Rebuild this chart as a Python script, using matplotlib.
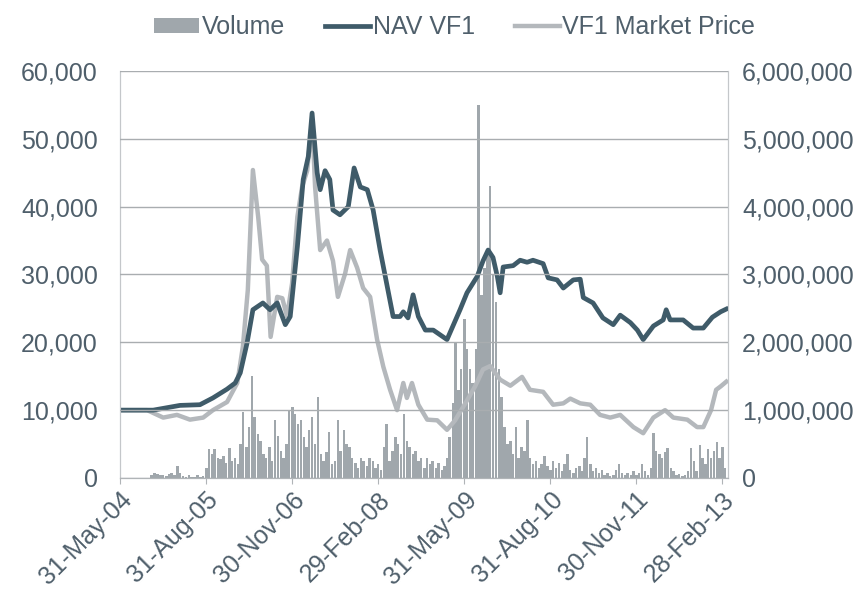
import matplotlib
matplotlib.use("Agg")
import matplotlib.pyplot as plt
import matplotlib.dates as mdates
from matplotlib.ticker import FuncFormatter, FixedLocator
from matplotlib.patches import Patch
from matplotlib.lines import Line2D
import pandas as pd
import numpy as np

plt.rcParams['font.family'] = ['Liberation Sans', 'DejaVu Sans']

# ---------------- data ----------------
nav_dates = ["2004-05-31", "2004-11-23", "2005-04-14", "2005-07-29", "2005-10-06", "2005-12-20",
             "2006-02-01", "2006-02-28", "2006-04-05", "2006-05-06", "2006-06-28", "2006-08-05",
             "2006-09-12", "2006-10-25", "2006-11-20", "2006-12-28", "2007-01-28", "2007-02-24",
             "2007-03-16", "2007-04-12", "2007-04-28", "2007-05-24", "2007-06-18", "2007-07-05",
             "2007-08-11", "2007-09-24", "2007-10-25", "2007-11-27", "2008-01-03", "2008-02-03",
             "2008-03-11", "2008-04-18", "2008-05-19", "2008-06-25", "2008-07-12", "2008-08-06",
             "2008-09-02", "2008-09-30", "2008-11-06", "2008-12-18", "2009-03-01", "2009-05-09",
             "2009-06-15", "2009-08-08", "2009-09-08", "2009-10-05", "2009-10-31", "2009-11-23",
             "2009-12-08", "2009-12-24", "2010-02-15", "2010-03-24", "2010-04-30", "2010-05-31",
             "2010-07-24", "2010-08-20", "2010-10-06", "2010-11-08", "2010-12-31", "2011-02-06",
             "2011-02-22", "2011-04-15", "2011-06-06", "2011-07-31", "2011-09-06", "2011-10-30",
             "2011-12-06", "2012-01-06", "2012-02-29", "2012-04-21", "2012-05-07", "2012-05-28",
             "2012-08-05", "2012-09-27", "2012-11-20", "2013-01-07", "2013-02-20", "2013-03-22"]
nav_values = [10000, 10000, 10700, 10800, 11800, 13100,
              14000, 15500, 19900, 24800, 25800, 24800,
              25800, 22600, 23800, 34100, 44000, 47400,
              53800, 45000, 42500, 45300, 44000, 39500,
              38800, 40000, 45700, 42900, 42500, 39500,
              33600, 28200, 23800, 23800, 24500, 23600,
              27000, 23800, 21800, 21800, 20400, 24800,
              27300, 29700, 32000, 33600, 32500, 29700,
              27300, 31100, 31300, 32100, 31800, 32100,
              31600, 29500, 29200, 28000, 29200, 29300,
              26600, 25800, 23600, 22600, 24000, 22900,
              21800, 20400, 22400, 23300, 24800, 23300,
              23300, 22100, 22100, 23700, 24500, 24900]

mkt_dates = ["2004-05-31", "2004-10-22", "2005-01-15", "2005-03-29", "2005-06-06", "2005-08-15",
             "2005-10-06", "2005-12-20", "2006-02-12", "2006-03-14", "2006-04-09", "2006-05-06",
             "2006-06-03", "2006-06-24", "2006-07-19", "2006-08-08", "2006-09-12", "2006-10-09",
             "2006-11-03", "2006-11-30", "2006-12-28", "2007-01-22", "2007-02-18", "2007-03-16",
             "2007-04-01", "2007-04-28", "2007-06-03", "2007-07-05", "2007-07-31", "2007-09-07",
             "2007-10-04", "2007-11-10", "2007-12-12", "2008-01-18", "2008-02-24", "2008-03-28",
             "2008-05-03", "2008-06-09", "2008-07-12", "2008-07-31", "2008-08-27", "2008-09-30",
             "2008-11-16", "2009-01-08", "2009-03-01", "2009-04-13", "2009-06-06", "2009-07-28",
             "2009-09-08", "2009-10-16", "2009-12-08", "2010-01-31", "2010-04-03", "2010-05-15",
             "2010-07-24", "2010-09-15", "2010-11-08", "2010-12-15", "2011-02-06", "2011-03-31",
             "2011-05-22", "2011-07-15", "2011-09-06", "2011-11-15", "2012-01-06", "2012-02-29",
             "2012-05-01", "2012-06-14", "2012-08-27", "2012-10-18", "2012-11-20", "2012-12-31",
             "2013-01-27", "2013-02-20", "2013-03-22"]
mkt_values = [10000, 10000, 8900, 9300, 8600, 8900,
              10000, 11200, 14000, 19400, 27700, 45400,
              38500, 32200, 31300, 20800, 26700, 26500,
              23800, 28700, 38500, 42900, 45300, 52800,
              42900, 33600, 35000, 32000, 26700, 30100,
              33600, 31000, 28000, 26700, 20400, 16400,
              13000, 10000, 14000, 11800, 14000, 10800,
              8600, 8500, 7100, 8500, 11000, 13500,
              16000, 16500, 14500, 13600, 14900, 13000,
              12700, 10800, 11000, 11700, 11000, 10800,
              9300, 8900, 9300, 7500, 6600, 8900,
              10000, 8900, 8600, 7500, 7500, 10000,
              13000, 13500, 14200]

# volume, half-monthly, in millions of units
vol_start = "2004-06-01"
vol_millions = [0, 0, 0, 0, 0, 0, 0, 0, 0, 0, 0,
                0.05, 0.08, 0.06, 0.04, 0.05, 0.03, 0.06, 0.08, 0.05, 0.17,
                0.07, 0.03, 0.02, 0.04, 0.02, 0.01, 0.05, 0.02, 0.03, 0.15,
                0.42, 0.35, 0.43, 0.30, 0.28, 0.32, 0.22, 0.44, 0.25, 0.30,
                0.20, 0.50, 0.97, 0.45, 0.75, 1.50, 0.90, 0.65, 0.55, 0.35,
                0.30, 0.45, 0.25, 0.85, 0.62, 0.40, 0.30, 0.50, 1.00, 1.05,
                0.95, 0.80, 0.85, 0.60, 0.45, 0.70, 0.90, 0.50, 1.20, 0.35,
                0.25, 0.38, 0.68, 0.20, 0.25, 0.85, 0.40, 0.70, 0.50, 0.46,
                0.30, 0.22, 0.15, 0.30, 0.25, 0.18, 0.30, 0.25, 0.15, 0.20,
                0.12, 0.45, 0.80, 0.25, 0.40, 0.60, 0.50, 0.35, 0.95, 0.55,
                0.45, 0.35, 0.40, 0.25, 0.30, 0.15, 0.30, 0.20, 0.25, 0.15,
                0.22, 0.12, 0.18, 0.30, 0.60, 1.10, 2.00, 1.30, 1.60, 2.35,
                1.90, 1.60, 1.40, 1.90, 5.50, 2.70, 3.10, 3.30, 4.30, 3.00,
                2.60, 1.60, 1.20, 0.75, 0.50, 0.55, 0.35, 0.75, 0.30, 0.45,
                0.40, 0.85, 0.30, 0.20, 0.25, 0.15, 0.20, 0.33, 0.18, 0.12,
                0.25, 0.15, 0.22, 0.10, 0.20, 0.35, 0.12, 0.08, 0.15, 0.18,
                0.10, 0.30, 0.60, 0.20, 0.10, 0.15, 0.08, 0.12, 0.05, 0.07,
                0.03, 0.05, 0.12, 0.20, 0.08, 0.05, 0.07, 0.04, 0.10, 0.05,
                0.08, 0.20, 0.10, 0.05, 0.15, 0.66, 0.40, 0.35, 0.30, 0.38,
                0.44, 0.15, 0.10, 0.05, 0.06, 0.03, 0.05, 0.10, 0.44, 0.25,
                0.10, 0.49, 0.30, 0.20, 0.42, 0.30, 0.40, 0.53, 0.30, 0.45,
                0.15]

tick_dates = ["2004-05-31", "2005-08-31", "2006-11-30", "2008-02-29",
              "2009-05-31", "2010-08-31", "2011-11-30", "2013-02-28"]
left_ticks = [0, 10000, 20000, 30000, 40000, 50000, 60000]
right_ticks = [0, 1000000, 2000000, 3000000, 4000000, 5000000, 6000000]

series_names = ["Volume", "NAV VF1", "VF1 Market Price"]

# ---------------- styling ----------------
TXT = "#4f5f6b"
NAV_C = "#3f5b69"
MKT_C = "#b4b8bc"
VOL_C = "#a0a7ac"
GRID_C = "#a9adb0"
FS = 18

fig = plt.figure(figsize=(8.58, 5.89), dpi=100)
ax = fig.add_axes([0.1399, 0.1885, 0.8485 - 0.1399, 0.8795 - 0.1885])
ax2 = ax.twinx()
ax.set_zorder(ax2.get_zorder() + 1)
ax.patch.set_visible(False)

nav_x = pd.to_datetime(nav_dates)
mkt_x = pd.to_datetime(mkt_dates)
vol_x = pd.date_range(vol_start, periods=len(vol_millions), freq="SMS")
vol = np.array(vol_millions) * 1e6

ax2.bar(vol_x, vol, width=13, color=VOL_C, linewidth=0, align="center")
ax.plot(mkt_x, mkt_values, color=MKT_C, lw=3.2, solid_joinstyle="round")
ax.plot(nav_x, nav_values, color=NAV_C, lw=3.4, solid_joinstyle="round")

xmin = pd.Timestamp("2004-05-31")
xmax = pd.Timestamp("2013-03-31")
ax.set_xlim(xmin, xmax)
ax.set_ylim(0, 60000)
ax2.set_ylim(0, 6000000)

ax.yaxis.set_major_locator(FixedLocator(left_ticks))
ax2.yaxis.set_major_locator(FixedLocator(right_ticks))
fmt = FuncFormatter(lambda v, p: f"{int(v):,}")
ax.yaxis.set_major_formatter(fmt)
ax2.yaxis.set_major_formatter(fmt)

ax.set_xticks(pd.to_datetime(tick_dates))
ax.xaxis.set_major_formatter(mdates.DateFormatter("%d-%b-%y"))
for lab in ax.get_xticklabels():
    lab.set_rotation(45)
    lab.set_ha("right")
    lab.set_rotation_mode("anchor")

ax.grid(axis="y", color=GRID_C, lw=1.0)
ax.set_axisbelow(False)

for a in (ax, ax2):
    a.spines["top"].set_visible(False)
    a.spines["left"].set_color("#c4c7ca")
    a.spines["right"].set_color("#c4c7ca")
    a.spines["bottom"].set_color("#b0b4b7")

ax.tick_params(axis="y", length=0, labelsize=FS, labelcolor=TXT, pad=16)
ax2.tick_params(axis="y", length=0, labelsize=FS, labelcolor=TXT, pad=10)
ax.tick_params(axis="x", length=4, color="#b0b4b7", labelsize=FS, labelcolor=TXT, pad=3)

handles = [Patch(facecolor=VOL_C, edgecolor="none"),
           Line2D([], [], color=NAV_C, lw=3.4),
           Line2D([], [], color=MKT_C, lw=3.2)]
leg = fig.legend(handles, series_names, loc="upper center", bbox_to_anchor=(0.53, 1.012),
                 ncol=3, frameon=False, fontsize=FS, handlelength=1.8, handletextpad=0.1,
                 columnspacing=1.6, handleheight=0.55)
for t in leg.get_texts():
    t.set_color(TXT)

fig.savefig("out.png", dpi=100)
